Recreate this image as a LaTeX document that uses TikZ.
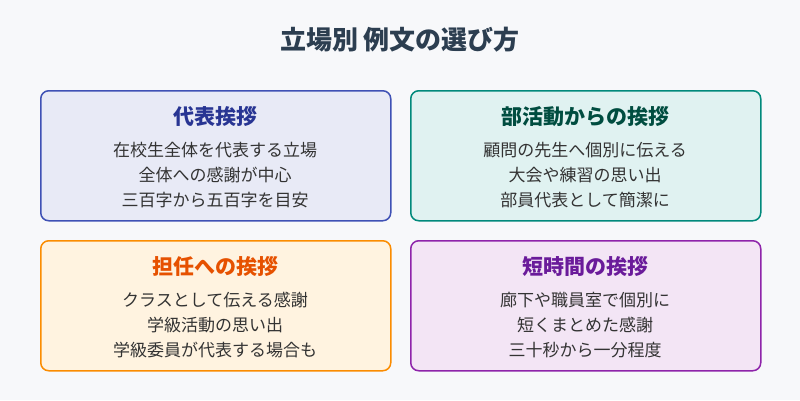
\documentclass[tikz,border=0pt]{standalone}
\usepackage{fontspec}
\setmainfont{Noto Sans CJK JP}
\usetikzlibrary{positioning}
\definecolor{bgcol}{HTML}{F7F8FA}
\definecolor{titlecol}{HTML}{2C3E50}
\definecolor{bodycol}{HTML}{333333}
\definecolor{blueline}{HTML}{3F51B5}\definecolor{bluefill}{HTML}{E8EAF6}\definecolor{bluetext}{HTML}{283593}
\definecolor{tealline}{HTML}{00897B}\definecolor{tealfill}{HTML}{E0F2F1}\definecolor{tealtext}{HTML}{004D40}
\definecolor{orgline}{HTML}{FB8C00}\definecolor{orgfill}{HTML}{FFF3E0}\definecolor{orgtext}{HTML}{E65100}
\definecolor{purline}{HTML}{8E24AA}\definecolor{purfill}{HTML}{F3E5F5}\definecolor{purtext}{HTML}{6A1B9A}
\begin{document}
\begin{tikzpicture}[x=1pt, y=-1pt,
        card/.style={rectangle, draw, line width=1.5pt, rounded corners=8pt, minimum width=350pt, minimum height=130pt, anchor=north west},
        head/.style={font=\fontsize{21}{23}\selectfont\bfseries, anchor=center},
        body/.style={font=\fontsize{17}{25}\selectfont, text=bodycol, align=center, anchor=north}
    ]
        \fill[bgcol] (0,0) rectangle (800,400);
        \useasboundingbox (0,0) rectangle (800,400);
        % Title
        \node[font=\fontsize{26}{28}\selectfont\bfseries, text=titlecol] (title) at (400,40) {立場別 例文の選び方};

        % Top row
        \node[card, draw=blueline, fill=bluefill] (rep) at (40,90) {};
        \node[head, text=bluetext] (repH) at (215,117) {代表挨拶};
        \node[body, below=8pt of repH] (repB) {在校生全体を代表する立場\\全体への感謝が中心\\三百字から五百字を目安};

        \node[card, draw=tealline, fill=tealfill] (club) at (410,90) {};
        \node[head, text=tealtext] (clubH) at (585,117) {部活動からの挨拶};
        \node[body, below=8pt of clubH] (clubB) {顧問の先生へ個別に伝える\\大会や練習の思い出\\部員代表として簡潔に};

        % Bottom row
        \node[card, draw=orgline, fill=orgfill] (tutor) at (40,240) {};
        \node[head, text=orgtext] (tutorH) at (215,267) {担任への挨拶};
        \node[body, below=8pt of tutorH] (tutorB) {クラスとして伝える感謝\\学級活動の思い出\\学級委員が代表する場合も};

        \node[card, draw=purline, fill=purfill] (short) at (410,240) {};
        \node[head, text=purtext] (shortH) at (585,267) {短時間の挨拶};
        \node[body, below=8pt of shortH] (shortB) {廊下や職員室で個別に\\短くまとめた感謝\\三十秒から一分程度};
    \end{tikzpicture}
\end{document}
